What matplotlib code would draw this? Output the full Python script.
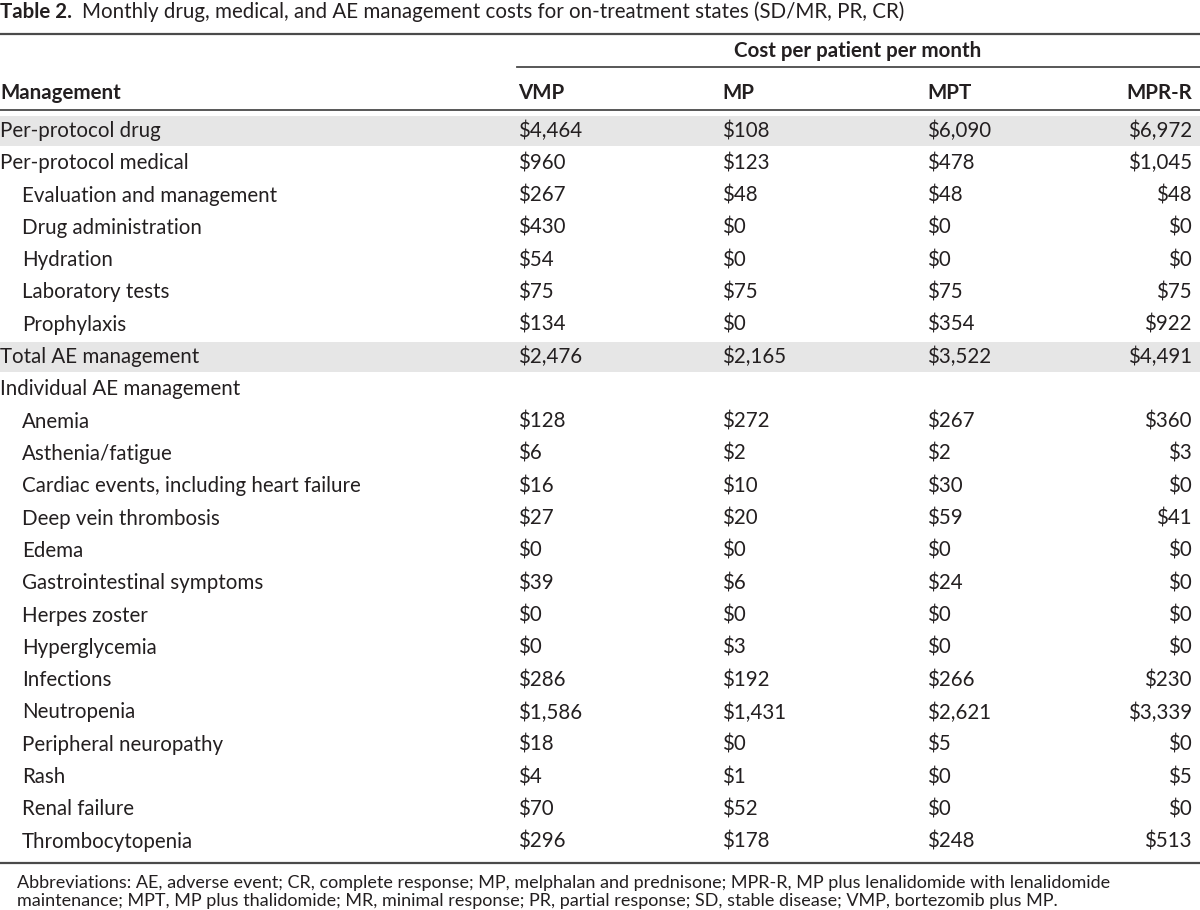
import matplotlib
matplotlib.use('Agg')
import matplotlib.pyplot as plt

plt.rcParams['font.family'] = ['Lato', 'DejaVu Sans']

# ===== Data =====
row_labels = ["Per-protocol drug", "Per-protocol medical", "Evaluation and management",
              "Drug administration", "Hydration", "Laboratory tests", "Prophylaxis",
              "Total AE management", "Individual AE management", "Anemia", "Asthenia/fatigue",
              "Cardiac events, including heart failure", "Deep vein thrombosis", "Edema",
              "Gastrointestinal symptoms", "Herpes zoster", "Hyperglycemia", "Infections",
              "Neutropenia", "Peripheral neuropathy", "Rash", "Renal failure", "Thrombocytopenia"]
indented = [0, 0, 1, 1, 1, 1, 1, 0, 0, 1, 1, 1, 1, 1, 1, 1, 1, 1, 1, 1, 1, 1, 1]
shaded = [1, 0, 0, 0, 0, 0, 0, 1, 0, 0, 0, 0, 0, 0, 0, 0, 0, 0, 0, 0, 0, 0, 0]
vmp = [4464, 960, 267, 430, 54, 75, 134, 2476, None, 128, 6, 16, 27, 0, 39, 0, 0, 286, 1586, 18, 4, 70, 296]
mp = [108, 123, 48, 0, 0, 75, 0, 2165, None, 272, 2, 10, 20, 0, 6, 0, 3, 192, 1431, 0, 1, 52, 178]
mpt = [6090, 478, 48, 0, 0, 75, 354, 3522, None, 267, 2, 30, 59, 0, 24, 0, 0, 266, 2621, 5, 0, 0, 248]
mprr = [6972, 1045, 48, 0, 0, 75, 922, 4491, None, 360, 3, 0, 41, 0, 0, 0, 0, 230, 3339, 0, 5, 0, 513]
col_names = ["VMP", "MP", "MPT", "MPR-R"]

title_bold = "Table 2."
title_rest = "Monthly drug, medical, and AE management costs for on-treatment states (SD/MR, PR, CR)"
span_header = "Cost per patient per month"
footnote = ("Abbreviations: AE, adverse event; CR, complete response; MP, melphalan and prednisone; MPR-R, MP plus lenalidomide with lenalidomide\n"
            "maintenance; MPT, MP plus thalidomide; MR, minimal response; PR, partial response; SD, stable disease; VMP, bortezomib plus MP.")

# ===== Layout =====
FS = 14.8
TXT = '#231f20'
RULE = '#4a4a4a'
col_x = [518, 722, 927, 1192]
col_ha = ['left', 'left', 'left', 'right']
y0, pitch = 131, 32.3

fig = plt.figure(figsize=(12, 9.1), dpi=100)
ax = fig.add_axes([0, 0, 1, 1])
ax.set_xlim(0, 1200); ax.set_ylim(910, 0); ax.axis('off')

def money(v):
    return "" if v is None else f"${v:,}"

# title
t = ax.text(0, 12, title_bold + "  ", fontsize=FS, fontweight='bold', color=TXT, va='center', ha='left')
fig.canvas.draw()
bb = t.get_window_extent()
x_end = ax.transData.inverted().transform((bb.x1, bb.y0))[0]
ax.text(x_end, 12, title_rest, fontsize=FS, color=TXT, va='center', ha='left')

# rules
ax.plot([0, 1200], [34, 34], color=RULE, lw=1.6)
ax.plot([517, 1200], [67, 67], color=RULE, lw=1.3)
ax.plot([0, 1200], [110, 110], color=RULE, lw=1.3)

# header
ax.text(858, 51, span_header, fontsize=FS, fontweight='bold', color=TXT, va='center', ha='center')
ax.text(0, 93, "Management", fontsize=FS, fontweight='bold', color=TXT, va='center', ha='left')
for name, x, ha in zip(col_names, col_x, col_ha):
    ax.text(x, 93, name, fontsize=FS, fontweight='bold', color=TXT, va='center', ha=ha)

# body
for i, lab in enumerate(row_labels):
    y = y0 + i * pitch
    if shaded[i]:
        ax.axhspan(y - 15, y + 15, color='#e6e6e6', lw=0, zorder=0)
    ax.text(22 if indented[i] else 0, y, lab, fontsize=FS, color=TXT, va='center', ha='left')
    for vals, x, ha in zip([vmp, mp, mpt, mprr], col_x, col_ha):
        ax.text(x, y, money(vals[i]), fontsize=FS, color=TXT, va='center', ha=ha)

ax.plot([0, 1200], [863, 863], color=RULE, lw=1.6)
ax.text(17, 892, footnote, fontsize=13, color=TXT, va='center', ha='left', linespacing=1.15)

fig.savefig("out.png", dpi=100)
